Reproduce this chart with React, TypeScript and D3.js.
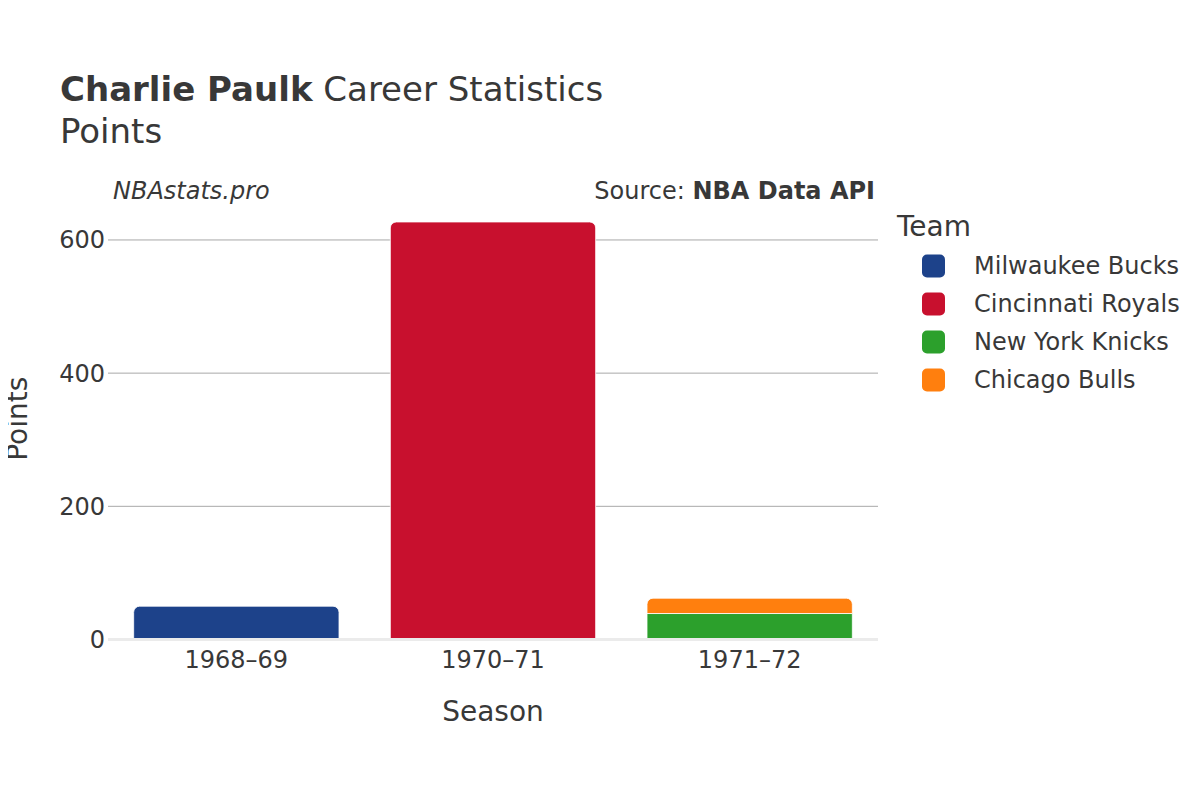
import { useRef, useEffect } from 'react';
import * as d3 from 'd3';

const seasons = ['1968–69', '1970–71', '1971–72'];
const teams = ['Milwaukee Bucks', 'Cincinnati Royals', 'New York Knicks', 'Chicago Bulls'];
const teamColors = ['#1d428a', '#c8102e', '#2ca02c', '#ff7f0e'];
// points per season, stacked in team order
const bucksPoints = [50, 0, 0];
const royalsPoints = [0, 627, 0];
const knicksPoints = [0, 0, 39];
const bullsPoints = [0, 0, 23];
const yTicks = [0, 200, 400, 600];

const FONT = '"DejaVu Sans", sans-serif';
const TEXT = '#383838';

const Chart = () => {
  const svgRef = useRef<SVGSVGElement>(null);
  const width = 1200;
  const height = 800;
  const margin = { top: 200, right: 322, bottom: 160.5, left: 108 };
  const innerW = width - margin.left - margin.right;
  const innerH = height - margin.top - margin.bottom;

  useEffect(() => {
    const svg = d3.select(svgRef.current);
    svg.selectAll('*').remove();

    svg.append('rect').attr('width', width).attr('height', height).attr('fill', '#fff');

    const g = svg.append('g').attr('transform', `translate(${margin.left},${margin.top})`);

    const x = d3.scaleBand().domain(seasons).range([0, innerW]).paddingInner(0.2).paddingOuter(0.1);
    const y = d3.scaleLinear().domain([0, 660]).range([innerH, 0]);

    // Gridlines
    g.selectAll('line.grid')
      .data(yTicks.filter(t => t !== 0))
      .join('line')
      .attr('class', 'grid')
      .attr('x1', 0)
      .attr('x2', innerW)
      .attr('y1', d => y(d))
      .attr('y2', d => y(d))
      .attr('stroke', '#a8a8a8')
      .attr('stroke-width', 1);

    // Y tick labels
    g.selectAll('text.ytick')
      .data(yTicks)
      .join('text')
      .attr('class', 'ytick')
      .attr('x', -3)
      .attr('y', d => y(d))
      .attr('dy', '0.35em')
      .attr('text-anchor', 'end')
      .attr('font-family', FONT)
      .attr('font-size', 24)
      .attr('fill', TEXT)
      .text(d => d);

    // Stacked series
    const seriesValues = [bucksPoints, royalsPoints, knicksPoints, bullsPoints];
    const rows = seasons.map((s, i) => {
      const r: any = { season: s };
      teams.forEach((t, k) => (r[t] = seriesValues[k][i]));
      return r;
    });
    const stacked = d3.stack<any>().keys(teams)(rows);

    // top-most non-zero segment per season gets rounded corners
    const topTeam = seasons.map((_, i) => {
      let top = -1;
      seriesValues.forEach((vals, k) => { if (vals[i] > 0) top = k; });
      return top;
    });

    const rad = 6;
    const barPath = (x0: number, w: number, yTop: number, yBot: number, round: boolean) => {
      const h = yBot - yTop;
      const r = round ? Math.min(rad, h / 2, w / 2) : 0;
      const p = d3.path();
      p.moveTo(x0, yBot);
      p.lineTo(x0, yTop + r);
      if (r > 0) p.arcTo(x0, yTop, x0 + r, yTop, r);
      p.lineTo(x0 + w - r, yTop);
      if (r > 0) p.arcTo(x0 + w, yTop, x0 + w, yTop + r, r);
      p.lineTo(x0 + w, yBot);
      p.closePath();
      return p.toString();
    };

    stacked.forEach((layer, k) => {
      g.append('g')
        .selectAll('path')
        .data(layer.map((d, i) => ({ d, i })).filter(o => o.d[1] - o.d[0] > 0))
        .join('path')
        .attr('d', o =>
          barPath(x(seasons[o.i]) || 0, x.bandwidth(), y(o.d[1]), y(o.d[0]), topTeam[o.i] === k)
        )
        .attr('fill', teamColors[k])
        .attr('stroke', '#fff')
        .attr('stroke-width', 0.8);
    });

    // Zero line
    g.append('line')
      .attr('x1', 0)
      .attr('x2', innerW)
      .attr('y1', y(0))
      .attr('y2', y(0))
      .attr('stroke', '#ebebeb')
      .attr('stroke-width', 3);

    // X tick labels
    g.selectAll('text.xtick')
      .data(seasons)
      .join('text')
      .attr('class', 'xtick')
      .attr('x', d => (x(d) || 0) + x.bandwidth() / 2)
      .attr('y', innerH + 28)
      .attr('text-anchor', 'middle')
      .attr('font-family', FONT)
      .attr('font-size', 24)
      .attr('fill', TEXT)
      .text(d => d);

    // Axis titles
    svg.append('text')
      .attr('x', margin.left + innerW / 2)
      .attr('y', 721)
      .attr('text-anchor', 'middle')
      .attr('font-family', FONT)
      .attr('font-size', 28)
      .attr('fill', TEXT)
      .text('Season');

    svg.append('text')
      .attr('transform', `translate(27,${margin.top + innerH / 2 - 1}) rotate(-90)`)
      .attr('text-anchor', 'middle')
      .attr('font-family', FONT)
      .attr('font-size', 28)
      .attr('fill', TEXT)
      .text('Points');

    // Title
    const title = svg.append('text')
      .attr('x', 60)
      .attr('y', 101)
      .attr('font-family', FONT)
      .attr('font-size', 34)
      .attr('fill', TEXT);
    title.append('tspan').attr('font-weight', 'bold').text('Charlie Paulk');
    title.append('tspan').text(' Career Statistics');

    svg.append('text')
      .attr('x', 60)
      .attr('y', 143)
      .attr('font-family', FONT)
      .attr('font-size', 34)
      .attr('fill', TEXT)
      .text('Points');

    // Annotations
    svg.append('text')
      .attr('x', 113)
      .attr('y', 199)
      .attr('font-family', FONT)
      .attr('font-size', 24)
      .attr('font-style', 'italic')
      .attr('fill', TEXT)
      .text('NBAstats.pro');

    const src = svg.append('text')
      .attr('x', 875)
      .attr('y', 199)
      .attr('text-anchor', 'end')
      .attr('font-family', FONT)
      .attr('font-size', 24)
      .attr('fill', TEXT);
    src.append('tspan').text('Source: ');
    src.append('tspan').attr('font-weight', 'bold').text('NBA Data API');

    // Legend
    const legend = svg.append('g');
    legend.append('text')
      .attr('x', 897)
      .attr('y', 236)
      .attr('font-family', FONT)
      .attr('font-size', 28)
      .attr('fill', TEXT)
      .text('Team');

    const item = legend.selectAll('g.item')
      .data(teams)
      .join('g')
      .attr('class', 'item')
      .attr('transform', (_d, i) => `translate(0,${266 + i * 38})`);

    item.append('rect')
      .attr('x', 922)
      .attr('y', -11.5)
      .attr('width', 23)
      .attr('height', 23)
      .attr('rx', 5)
      .attr('fill', (_d, i) => teamColors[i]);

    item.append('text')
      .attr('x', 974)
      .attr('dy', '0.35em')
      .attr('font-family', FONT)
      .attr('font-size', 24)
      .attr('fill', TEXT)
      .text(d => d);
  }, []);

  return <svg ref={svgRef} width={width} height={height} style={{ display: 'block' }} />;
};

export default function App() {
  return (
    <div style={{ margin: -8 }}>
      <Chart />
    </div>
  );
}
